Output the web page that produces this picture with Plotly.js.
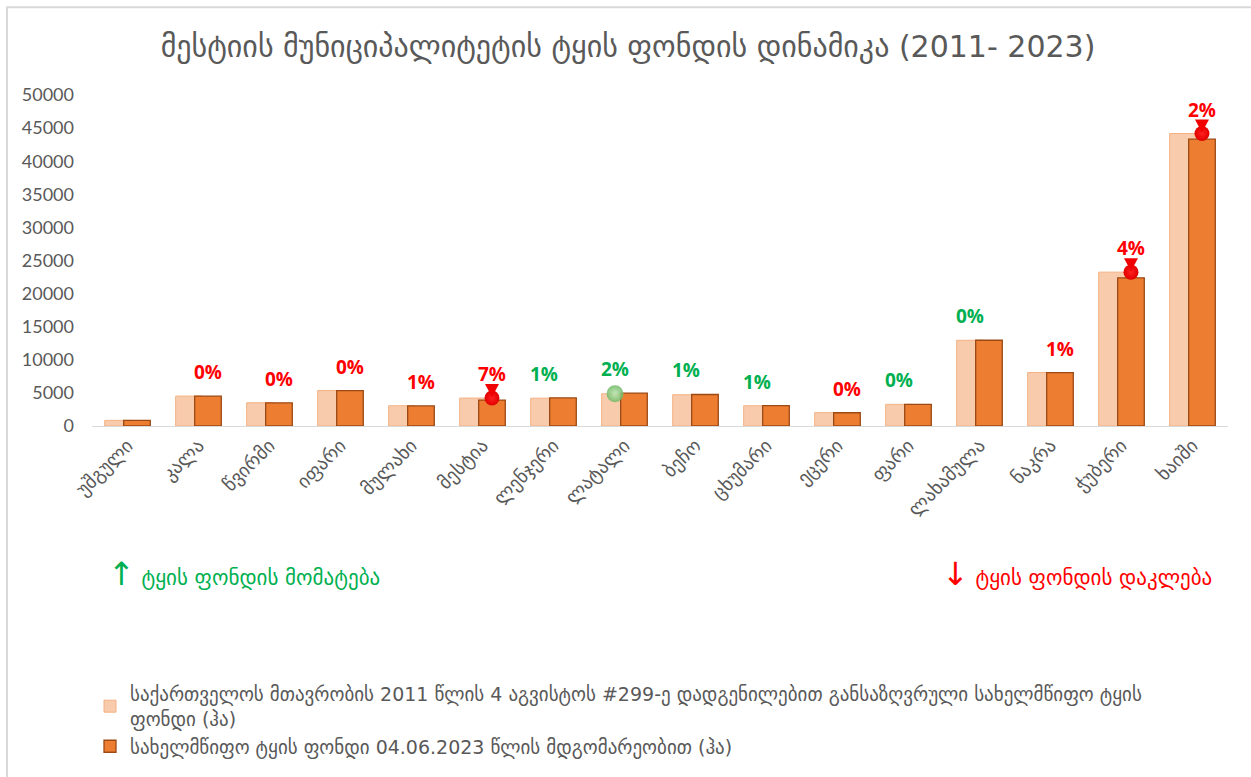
<!DOCTYPE html>
<html><head><meta charset="utf-8">
<script src="https://cdn.plot.ly/plotly-3.0.1.min.js"></script>
<style>html,body{margin:0;padding:0;background:#fff}#chart{width:1251px;height:777px}</style>
</head><body><div id="chart"></div>
<script>
const categories = ['უშგული','კალა','წვირმი','იფარი','მულახი','მესტია','ლენჯერი','ლატალი','ბეჩო','ცხუმარი','ეცერი','ფარი','ლახამულა','ნაკრა','ჭუბერი','ხაიში'];
const forest2011 = [850, 4520, 3510, 5360, 3060, 4220, 4200, 4870, 4720, 3060, 2010, 3270, 12950, 8080, 23240, 44180];
const forest2023 = [840, 4510, 3500, 5350, 3030, 3920, 4240, 4970, 4760, 3090, 2000, 3270, 12950, 8060, 22390, 43330];
const changeLabels = ['', '0%','0%','0%','1%','7%','1%','2%','1%','1%','0%','0%','0%','1%','4%','2%'];
const changeDir = ['', 'down','down','down','down','down','up','up','up','up','down','up','up','down','down','down'];
const highlight = ['', '', '', '', '', 'down', '', 'up', '', '', '', '', '', '', 'down', 'down'];
const seriesNames = ['საქართველოს მთავრობის 2011 წლის 4 აგვისტოს #299-ე დადგენილებით განსაზღვრული სახელმწიფო ტყის<br>ფონდი (ჰა)', 'სახელმწიფო ტყის ფონდი 04.06.2023 წლის მდგომარეობით (ჰა)'];
const titleText = 'მესტიის მუნიციპალიტეტის ტყის ფონდის დინამიკა (2011- 2023)';
const noteUp = 'ტყის ფონდის მომატება';
const noteDown = 'ტყის ფონდის დაკლება';

const GEO = '"DejaVu Sans", sans-serif';
const NUM = 'Lato, "DejaVu Sans", sans-serif';
const GRAY = '#595959';
const RED = '#FF0000', GREEN = '#00B050';
const BW = 0.375, OFF1 = -0.3215, OFF2 = -0.054;
const c1 = OFF1 + BW/2, c2 = OFF2 + BW/2;
const idx = categories.map((_, i) => i);

const L = 92, R = 1228, T = 95, B = 427, W = 1251, H = 777;
const px = x => (x - L) / (R - L);
const py = y => (B - y) / (B - T);

const traces = [
  {type:'bar', x: idx, y: forest2011, name: seriesNames[0], width: BW, offset: OFF1,
   marker:{color:'#F8CBAD', line:{color:'#F4B183', width:1}}},
  {type:'bar', x: idx, y: forest2023, name: seriesNames[1], width: BW, offset: OFF2,
   marker:{color:'#ED7D31', line:{color:'#9C4A15', width:1.3}}}
];
const downIdx = idx.filter(i => highlight[i] === 'down');
const upIdx = idx.filter(i => highlight[i] === 'up');
traces.push({type:'scatter', mode:'markers', x: downIdx.map(i => i + c2), y: downIdx.map(i => forest2011[i]),
  showlegend:false, hoverinfo:'skip',
  marker:{symbol:'circle', size:15, color:'#E00000', gradient:{type:'radial', color:'#FF2020'}, line:{width:0}}});
traces.push({type:'scatter', mode:'markers', x: upIdx.map(i => i + c1), y: upIdx.map(i => forest2011[i]),
  showlegend:false, hoverinfo:'skip',
  marker:{symbol:'circle', size:17, color:'rgba(110,185,100,0.85)', gradient:{type:'radial', color:'rgba(190,230,180,0.9)'}, line:{width:0}}});

const annotations = [];
idx.forEach(i => {
  if (!changeLabels[i]) return;
  const up = changeDir[i] === 'up';
  annotations.push({x: i + (up ? c1 : c2), y: Math.max(forest2011[i], forest2023[i]), xref:'x', yref:'y',
    text: changeLabels[i], showarrow:false, yanchor:'middle', yshift: 24,
    font:{family:'"Open Sans", sans-serif', size:19, color: up ? GREEN : RED, weight:'bold'}});
});
annotations.push({xref:'paper', yref:'paper', x: px(106), y: py(575), xanchor:'left', yanchor:'middle',
  showarrow:false, text:'<span style="font-size:32px">↑</span> ' + noteUp, font:{family:GEO, size:21, color:GREEN}});
annotations.push({xref:'paper', yref:'paper', x: px(1214), y: py(575), xanchor:'right', yanchor:'middle',
  showarrow:false, text:'<span style="font-size:32px">↓</span> ' + noteDown, font:{family:GEO, size:21, color:RED}});

const shapes = [{type:'rect', xref:'paper', yref:'paper', x0: px(7), x1: px(1270), y0: py(7), y1: py(800),
    line:{color:'#D9D9D9', width:2}, fillcolor:'rgba(0,0,0,0)', layer:'below'}];
downIdx.forEach(i => {
  shapes.push({type:'path', xref:'x', yref:'y', xsizemode:'pixel', ysizemode:'pixel',
    xanchor: i + c2, yanchor: forest2011[i], path:'M -7,14 L 7,14 L 0,1 Z',
    fillcolor:'#F00000', line:{width:0}, layer:'above'});
});

const layout = {
  width: W, height: H,
  margin:{l:L, r:W-R, t:T, b:H-B, pad:0},
  paper_bgcolor:'#fff', plot_bgcolor:'#fff',
  barmode:'overlay',
  title:{text: titleText, x: 628/W, xref:'container', y: 1 - 46/H, yref:'container', xanchor:'center', yanchor:'middle',
    font:{family:GEO, size:30, color:GRAY}},
  xaxis:{range:[-0.5, 15.5], tickvals: idx, ticktext: categories, tickangle:-45, showgrid:false, zeroline:false,
    showline:true, linecolor:'#D9D9D9', linewidth:1, ticks:'', tickfont:{family:GEO, size:19, color:GRAY}, fixedrange:true},
  yaxis:{range:[0, 50000], dtick:5000, tick0:0, tickformat:'d', showgrid:false, zeroline:false, showline:false, ticks:'',
    ticklabelstandoff: 17, tickfont:{family:NUM, size:18, color:GRAY}, fixedrange:true},
  showlegend:true,
  legend:{x: px(90), y: py(675), xanchor:'left', yanchor:'top', orientation:'v', traceorder:'normal',
    font:{family:GEO, size:19, color:GRAY}, tracegroupgap: 14, itemwidth:30, bgcolor:'rgba(0,0,0,0)'},
  annotations: annotations,
  shapes: shapes
};
Plotly.newPlot('chart', traces, layout, {displayModeBar:false, staticPlot:true});
</script></body></html>
